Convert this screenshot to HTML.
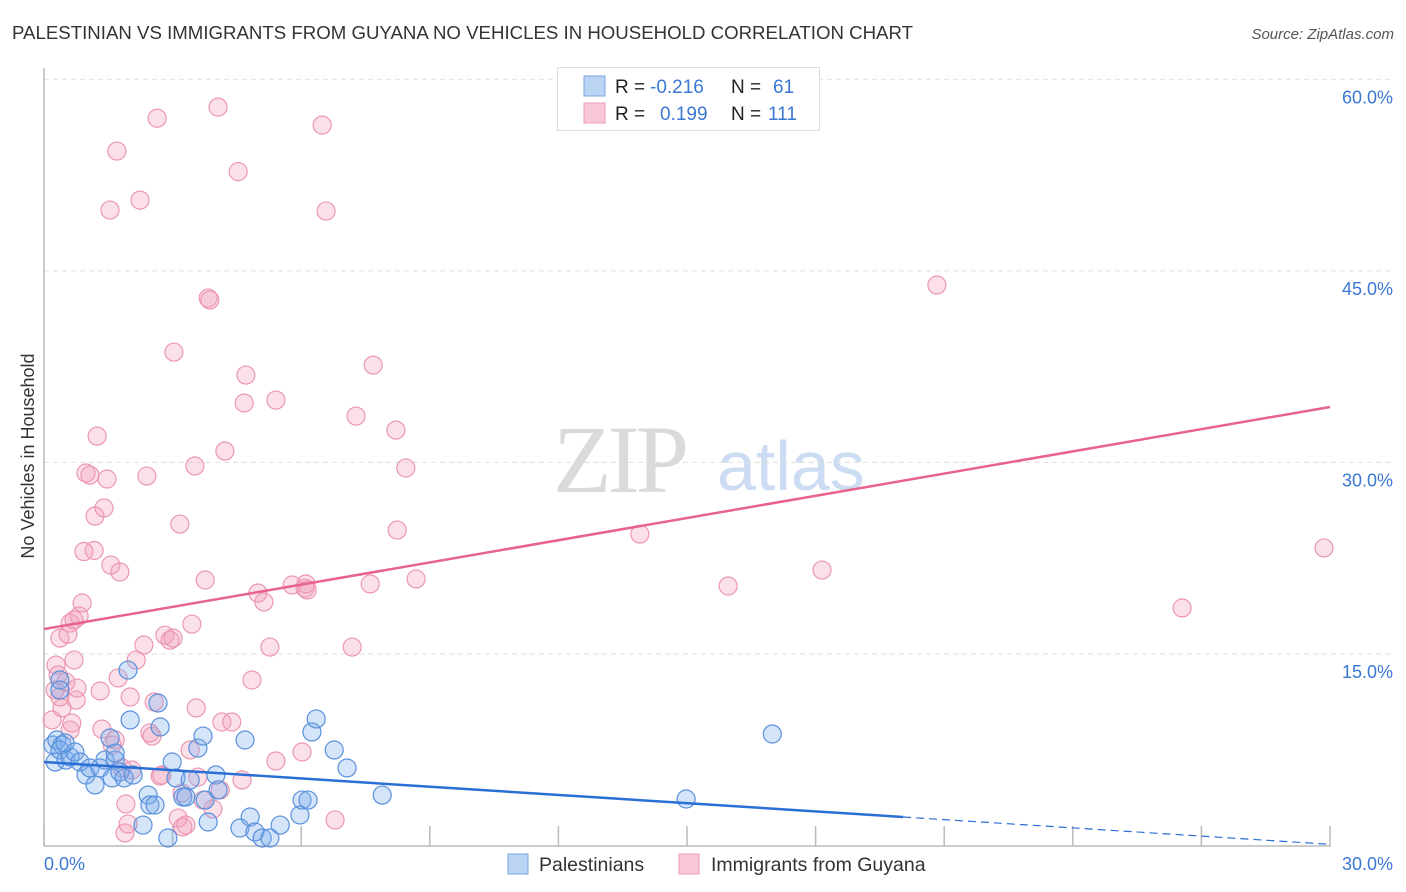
<!DOCTYPE html>
<html><head><meta charset="utf-8">
<style>
body{margin:0;background:#fff;font-family:"Liberation Sans",sans-serif;}
#wrap{position:relative;width:1406px;height:892px;overflow:hidden;}
</style></head>
<body>
<div id="wrap">
<svg id="chart" width="1406" height="892" xmlns="http://www.w3.org/2000/svg">
<text x="12" y="39" font-size="18" fill="#333" textLength="901" lengthAdjust="spacingAndGlyphs">PALESTINIAN VS IMMIGRANTS FROM GUYANA NO VEHICLES IN HOUSEHOLD CORRELATION CHART</text>
<text x="1394" y="39" font-size="15" fill="#555" font-style="italic" text-anchor="end">Source: ZipAtlas.com</text>
<text x="34" y="456" font-size="18" fill="#333" text-anchor="middle" transform="rotate(-90 34 456)">No Vehicles in Household</text>
<g>
<text x="553" y="492" font-size="96" font-family="Liberation Serif,serif" fill="#dadada" letter-spacing="-4">ZIP</text>
<text x="717" y="490" font-size="70" fill="#ccdcf2">atlas</text>
</g>
<g id="grid"></g>
<g id="axes"></g>
<g id="pts"></g>
<g id="lines"></g>
<g>
<rect x="557.5" y="67.5" width="262" height="63" fill="#fff" stroke="#ddd"/>
<rect x="584" y="76" width="21" height="20" fill="#bcd4f4" stroke="#7aa6e4"/>
<rect x="584" y="103" width="21" height="20" fill="#f8c8d6" stroke="#ee9ab4"/>
<text x="615" y="93" font-size="19" fill="#222">R =</text>
<text x="650" y="93" font-size="19" fill="#3a78d4">-0.216</text>
<text x="731" y="93" font-size="19" fill="#222">N =</text>
<text x="773" y="93" font-size="19" fill="#3a78d4">61</text>
<text x="615" y="120" font-size="19" fill="#222">R =</text>
<text x="660" y="120" font-size="19" fill="#3a78d4">0.199</text>
<text x="731" y="120" font-size="19" fill="#222">N =</text>
<text x="768" y="120" font-size="19" fill="#3a78d4">111</text>
</g>
<g>
<rect x="508" y="854" width="20" height="20" fill="#bcd4f4" stroke="#7aa6e4"/>
<text x="539" y="871" font-size="19.5" fill="#333">Palestinians</text>
<rect x="679" y="854" width="20" height="20" fill="#f8c8d6" stroke="#ee9ab4"/>
<text x="711" y="871" font-size="19.5" fill="#333">Immigrants from Guyana</text>
</g>
</svg>
</div>
<script>
const yTicks=[15,30,45,60];
const yTickLabels=["15.0%","30.0%","45.0%","60.0%"];
const xTickValues=[0,3,6,9,12,15,18,21,24,27,30];
const xAxisLabels=["0.0%","30.0%"];
const blueX=[.21,.30,.42,.37,.26,.37,.51,.61,.72,.84,.98,1.07,1.19,1.31,1.42,1.54,1.59,1.66,1.77,1.87,1.96,2.01,2.08,2.43,2.47,2.31,2.59,2.66,2.71,2.89,2.99,3.08,3.24,3.31,3.41,3.59,3.71,3.76,3.83,4.01,4.06,4.69,4.57,4.81,4.92,5.09,5.27,5.51,5.97,6.02,6.16,6.25,6.35,6.77,7.07,7.89,14.98,16.99,1.66,.49,.37];
const blueY=[7.87,8.26,7.87,12.96,6.54,7.48,6.69,6.93,7.32,6.54,5.52,6.07,4.74,6.07,6.69,8.42,5.29,6.69,5.76,5.29,13.74,9.83,5.52,3.95,3.17,1.60,3.17,11.16,9.28,0.59,6.54,5.29,3.80,3.80,5.13,7.63,8.57,3.56,1.84,5.52,4.35,8.26,1.37,2.23,1.06,0.59,0.59,1.60,2.39,3.56,3.56,8.89,9.91,7.48,6.07,3.95,3.64,8.73,7.24,8.03,12.18];
const pinkX=[.19,.26,.28,.37,.33,.42,.51,.61,.65,.70,.75,.77,.37,.56,.61,.70,.82,.89,.93,.98,1.07,1.17,1.19,1.24,1.31,1.35,1.40,1.47,1.54,1.56,1.59,1.66,1.70,1.73,1.77,1.82,1.89,1.91,1.96,2.01,2.05,2.15,2.24,2.33,2.40,2.47,2.52,2.57,2.64,2.71,2.75,2.82,2.94,3.01,3.03,3.13,3.17,3.22,3.24,3.31,3.41,3.45,3.52,3.55,3.59,3.71,3.76,3.83,3.87,3.94,4.06,4.15,4.11,4.22,4.38,4.53,4.62,4.67,4.71,4.85,4.99,5.13,5.27,5.41,5.41,5.79,6.09,6.11,6.14,6.02,6.49,6.58,6.79,7.19,7.28,7.61,7.68,8.21,8.24,8.44,8.68,13.90,15.96,18.15,20.83,26.55,29.86];
const pinkY=[9.83,12.18,14.13,11.63,13.35,10.77,12.80,9.04,9.59,14.52,11.39,12.33,16.24,16.55,17.42,17.66,17.97,18.99,23.02,29.17,29.01,23.10,25.80,32.06,12.10,9.12,26.43,28.70,49.76,21.96,7.87,8.26,54.38,13.12,21.42,6.07,0.98,3.25,1.68,11.63,5.91,14.52,50.54,15.70,28.93,8.81,8.57,11.24,56.95,5.44,5.52,16.47,16.08,16.24,38.64,2.15,25.17,4.11,1.45,1.60,7.48,17.34,29.72,10.77,5.36,3.56,20.79,42.87,42.72,2.86,57.82,9.67,4.35,30.89,9.67,52.77,5.13,34.65,36.84,12.96,19.77,19.07,15.54,34.88,6.62,20.40,20.16,20.48,20.01,7.32,56.41,49.68,2.00,15.54,33.63,20.48,37.62,32.53,24.70,29.56,20.87,24.39,20.32,21.57,43.89,18.60,23.30];
const pinkTrend=[16.95,34.34];
const blueTrend=[6.54,0.09];
const blueSolidEnd=20.04;

const NS="http://www.w3.org/2000/svg";
const X0=44,X1=1330,Y0=845.5,PPY=12.77;
function sx(v){return X0+(X1-X0)*v/30;}
function sy(v){return Y0-v*PPY;}
function mk(tag,attrs,parent){const e=document.createElementNS(NS,tag);for(const k in attrs)e.setAttribute(k,attrs[k]);parent.appendChild(e);return e;}
const grid=document.getElementById('grid'),axes=document.getElementById('axes'),pts=document.getElementById('pts'),lines=document.getElementById('lines');
yTicks.forEach((t,i)=>{
  const l=mk('line',{x1:X0,x2:1393,y1:sy(t),y2:sy(t),stroke:'#ddd','stroke-dasharray':'5,4'},grid);
  
  
  const tx=mk('text',{x:1393,y:sy(t)+24,'font-size':18,fill:'#3a78d4','text-anchor':'end'},grid);
  tx.textContent=yTickLabels[i];
  
  
});
const ya=mk('line',{x1:X0,x2:X0,y1:68,y2:846,stroke:'#bbb','stroke-width':1.5},axes);


const xa=mk('line',{x1:X0,x2:X1+1,y1:846,y2:846,stroke:'#bbb','stroke-width':1.5},axes);


xTickValues.forEach(v=>{
  const t=mk('line',{x1:sx(v),x2:sx(v),y1:826,y2:846,stroke:'#bbb','stroke-width':1.5},axes);
  
  
});
const xl0=mk('text',{x:44,y:870,'font-size':18,fill:'#3a78d4'},axes);xl0.textContent=xAxisLabels[0];


const xl1=mk('text',{x:1393,y:870,'font-size':18,fill:'#3a78d4','text-anchor':'end'},axes);xl1.textContent=xAxisLabels[1];


pinkX.forEach((x,i)=>{
  const c=mk('circle',{cx:sx(x),cy:sy(pinkY[i]),r:9,fill:'rgba(244,160,188,0.32)',stroke:'#eb97b2','stroke-width':1.2},pts);
  
  
});
blueX.forEach((x,i)=>{
  const c=mk('circle',{cx:sx(x),cy:sy(blueY[i]),r:9,fill:'rgba(120,170,235,0.32)',stroke:'#5a90dc','stroke-width':1.2},pts);
  
  
});
const pl=mk('line',{x1:sx(0),y1:sy(pinkTrend[0]),x2:sx(30),y2:sy(pinkTrend[1]),stroke:'#e8628e','stroke-width':2.5},lines);


const bAt=v=>blueTrend[0]+(blueTrend[1]-blueTrend[0])*v/30;
const bl=mk('line',{x1:sx(0),y1:sy(bAt(0)),x2:sx(blueSolidEnd),y2:sy(bAt(blueSolidEnd)),stroke:'#2a6fd6','stroke-width':2.5},lines);


const bd=mk('line',{x1:sx(blueSolidEnd),y1:sy(bAt(blueSolidEnd)),x2:sx(30),y2:sy(bAt(30)),stroke:'#2a6fd6','stroke-width':1.2,'stroke-dasharray':'8,5'},lines);


</script>
</body></html>
